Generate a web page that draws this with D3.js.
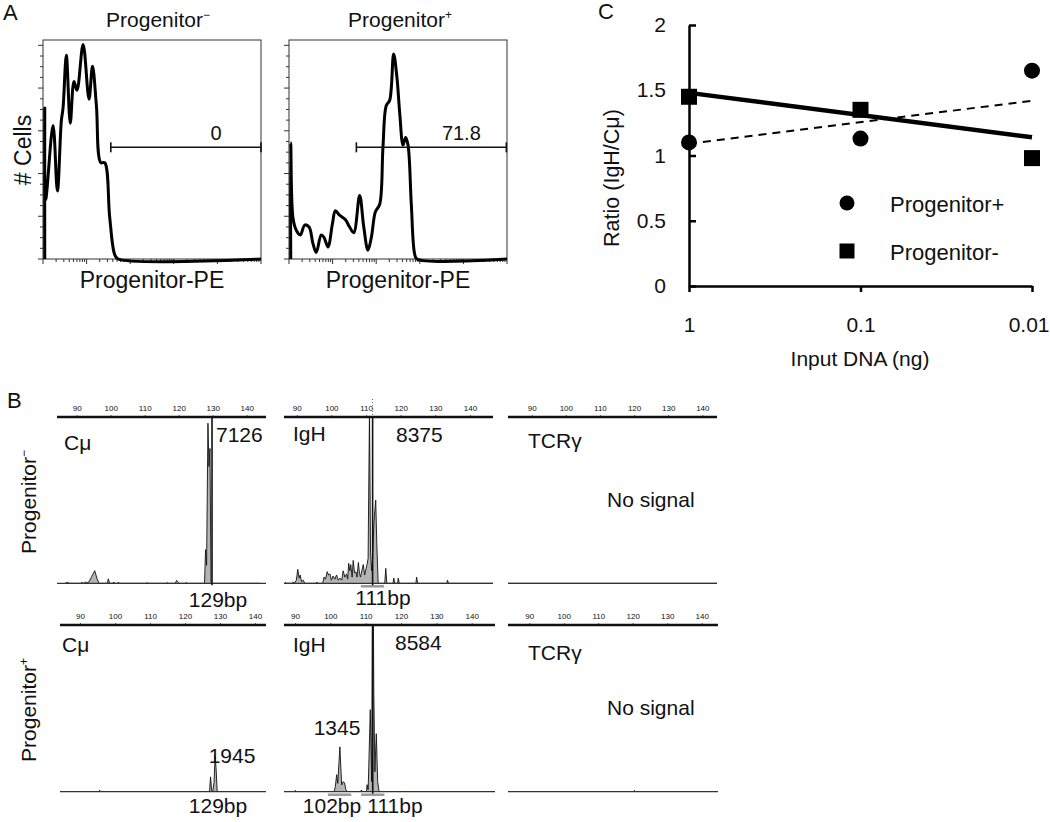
<!DOCTYPE html>
<html><head><meta charset="utf-8">
<script src="https://cdn.jsdelivr.net/npm/d3@7"></script>
<style>
body{margin:0;background:#fff}
text{font-family:"Liberation Sans",Arial,sans-serif;fill:#111}
</style>
</head><body>
<script>
// ---------------- DATA ----------------
// Panel A: flow histograms, [channel (0-1000), % of max]
const histNeg = [[8,0],[8,69],[12,27],[46,61],[66,31],[84,63],[92,69],[107,93],[125,62],[142,81],[156,77],[184,98],[211,73],[227,88],[245,70],[265,44],[283,44],[306,19],[329,2],[345,0],[1000,0]];
const histPos = [[8,0],[8,53],[18,19],[34,13],[52,11],[72,15.5],[92,14.6],[110,7],[125,3],[148,11],[160,10],[179,5.5],[199,16],[213,22],[232,20],[258,18],[278,14.6],[297,12],[324,29],[343,14.6],[362,4],[378,10],[396,21.5],[416,25],[431,51],[446,70],[462,72.5],[480,93.6],[495,83],[508,66.5],[523,52],[535,55.5],[546,52],[561,25],[576,2.5],[587,0],[1000,0]];
const gateNeg = {from:311, to:1000, level:51, label:"0"};
const gatePos = {from:309, to:997, level:51, label:"71.8"};
const histTitles = ["Progenitor", "Progenitor"];
const histSup = ["\u2212", "+"];

// Panel B: electropherogram traces, [size (bp), RFU]
const bpTicks = [90,100,110,120,130,140];
const cmuNegTrace = [[86.5,0],[87.4,40],[87.8,0],[91.2,0],[91.6,40],[92.0,0],[92.6,50],[93.0,20],[93.6,60],[94.4,300],[95.3,560],[96.0,200],[96.6,0],[99.0,0],[99.3,200],[99.7,0],[100.6,0],[100.9,60],[101.2,0],[102.0,0],[102.3,50],[102.6,0],[110.4,0],[110.7,30],[111.0,0],[116.3,0],[116.6,30],[116.9,0],[119.0,0],[119.4,130],[119.8,40],[120.1,0],[121.9,0],[122.2,40],[122.5,0],[127.6,0],[127.9,1500],[128.2,800],[128.6,7126],[128.9,5200],[129.2,6000],[129.5,0],[144,0]];
const igNegTrace = [[86.5,0],[86.7,40],[87,0],[88.8,0],[89,70],[89.3,0],[89.9,150],[90.3,670],[90.7,250],[91,400],[91.4,80],[91.9,150],[92.3,0],[95.6,0],[95.8,60],[96.1,0],[97.5,0],[97.9,300],[98.3,200],[98.8,560],[99.2,400],[99.6,450],[100,150],[100.5,350],[101,200],[101.5,400],[102,150],[102.5,250],[103,150],[103.4,600],[103.9,300],[104.4,450],[104.7,200],[105,960],[105.3,600],[105.6,900],[106,300],[106.3,1100],[106.7,500],[107.1,550],[107.4,300],[107.8,1000],[108.1,500],[108.4,300],[108.8,600],[109.2,900],[109.6,400],[110,700],[110.3,900],[110.6,1200],[111.0,8375],[111.3,1500],[111.6,600],[111.9,1200],[112.3,3000],[112.8,4000],[113.1,2000],[113.5,0],[115.4,0],[115.7,720],[116,0],[117.8,0],[118,250],[118.3,0],[119.1,0],[119.3,250],[119.6,0],[124.4,0],[124.6,300],[124.9,0],[133.3,0],[133.5,150],[133.8,0],[147,0]];
const tcrNegTrace = [[83,0],[145,0]];
const cmuPosTrace = [[86,0],[95.4,0],[95.6,80],[95.9,0],[127,0],[127.3,800],[127.6,100],[127.9,0],[128.3,500],[128.6,1945],[128.9,1200],[129.2,0],[146,0]];
const igPosTrace = [[86.5,0],[90,0],[90.1,40],[90.3,0],[101.1,0],[101.4,150],[101.8,510],[102.1,250],[102.7,1345],[103.2,200],[103.6,300],[104,270],[104.4,60],[104.8,0],[108.5,0],[108.8,50],[109.1,0],[110.2,0],[110.4,210],[110.7,60],[111.3,2460],[111.7,300],[112.0,8584],[112.3,3000],[112.6,600],[113.0,1740],[113.4,300],[113.8,0],[147,0]];
const tcrPosTrace = [[83,0],[120.3,0],[120.5,40],[120.8,0],[145,0]];

// Panel C: ratio vs input DNA
const inputDNA = [1, 0.1, 0.01];
const ratioPos = [1.10, 1.13, 1.65];
const ratioNeg = [1.45, 1.35, 0.98];
const trendPos = [1.09, 1.42];   // fitted line at 1 ng and 0.01 ng
const trendNeg = [1.48, 1.14];
const yTicksC = [0, 0.5, 1, 1.5, 2];

// ---------------- DRAWING ----------------
const svg = d3.select("body").append("svg").attr("width",1050).attr("height",822);
const defs = svg.append("defs");

function txt(x,y,s,size,anchor,rot){
  const t = svg.append("text").attr("x",x).attr("y",y).attr("font-size",size)
    .attr("text-anchor",anchor||"start").text(s);
  if(rot) t.attr("transform",`rotate(${rot},${x},${y})`);
  return t;
}

// ---- Panel A ----
txt(3,20,"A",22);
function histPanel(bx0, data, gate, title, sup, titleX){
  const bx1 = bx0+218, by0 = 40, by1 = 259;
  const x = d3.scaleLinear().domain([0,1000]).range([bx0,bx1]);
  const y = d3.scaleLinear().domain([0,100]).range([by1,by0]);
  const g = svg.append("g");
  g.append("rect").attr("x",bx0).attr("y",by0).attr("width",bx1-bx0).attr("height",by1-by0)
    .attr("fill","none").attr("stroke","#333").attr("stroke-width",1);
  const yt = d3.scaleLinear().domain([0,20.5]).range([by1,by0]);
  g.selectAll("line.yt").data(d3.range(0,21)).join("line")
    .attr("x1",d=>bx0-(d%4===0?5:3)).attr("x2",bx0)
    .attr("y1",d=>yt(d)).attr("y2",d=>yt(d)).attr("stroke","#333").attr("stroke-width",1);
  const xl = d3.scaleLog().domain([1,1e5]).range([bx0,bx1]);
  const xtv = [];
  for(let k=0;k<5;k++) for(let m=1;m<10;m++) xtv.push(m*Math.pow(10,k));
  xtv.push(1e5);
  g.selectAll("line.xt").data(xtv).join("line")
    .attr("x1",d=>xl(d)).attr("x2",d=>xl(d)).attr("y1",by1)
    .attr("y2",d=>by1+(Math.abs(Math.log10(d)%1)<1e-9?5:3))
    .attr("stroke","#333").attr("stroke-width",1);
  g.append("path").datum(data)
    .attr("d",d3.line().curve(d3.curveCatmullRom.alpha(0.5)).x(d=>x(d[0])).y(d=>y(d[1])))
    .attr("fill","none").attr("stroke","#000").attr("stroke-width",3).attr("stroke-linejoin","round");
  // gate
  const gy = y(gate.level);
  g.append("line").attr("x1",x(gate.from)).attr("x2",x(gate.to)).attr("y1",gy).attr("y2",gy)
    .attr("stroke","#111").attr("stroke-width",1.6);
  [gate.from, gate.to].forEach(v=>g.append("line").attr("x1",x(v)).attr("x2",x(v))
    .attr("y1",gy-5).attr("y2",gy+5).attr("stroke","#111").attr("stroke-width",1.6));
  txt(x((gate.from+gate.to)/2+ (gate.to-gate.from)*0.2), gy-7, gate.label, 20, "middle");
  const t = txt(titleX,27,title,21,"middle");
  t.append("tspan").attr("font-size",12).attr("dy",-8).text(sup);
  txt((bx0+bx1)/2,288,"Progenitor-PE",23,"middle");
}
histPanel(43, histNeg, gateNeg, histTitles[0], histSup[0], 158);
histPanel(289, histPos, gatePos, histTitles[1], histSup[1], 400);
txt(31,150,"# Cells",23,"middle",-90);

// ---- Panel C ----
txt(598,19,"C",22);
const xC = d3.scaleLog().domain([1,0.01]).range([689,1032]);
const yC = d3.scaleLinear().domain([0,2]).range([286,25]);
const gC = svg.append("g");
const axL = gC.append("g").attr("transform","translate(689,0)")
  .call(d3.axisLeft(yC).tickValues(yTicksC).tickSizeInner(-7).tickSizeOuter(0).tickPadding(23).tickFormat(d=>String(d)));
const axB = gC.append("g").attr("transform","translate(0,286)")
  .call(d3.axisBottom(xC).tickValues(inputDNA).tickSizeInner(6).tickSizeOuter(0).tickPadding(25).tickFormat(d=>String(d)));
[axL,axB].forEach(a=>{
  a.select(".domain").attr("stroke","#000").attr("stroke-width",2.5);
  a.selectAll(".tick line").attr("stroke","#000").attr("stroke-width",2.5);
  a.selectAll(".tick text").attr("font-size",21).attr("fill","#111").attr("font-family",'"Liberation Sans",Arial,sans-serif');
});
axB.selectAll(".tick text").filter(d=>d===inputDNA[inputDNA.length-1])
  .attr("text-anchor","end").attr("dx",17);
txt(619,178,"Ratio (IgH/C\u03bc)",21.5,"middle",-90);
txt(860,366,"Input DNA (ng)",21,"middle");
const ends = [inputDNA[0], inputDNA[inputDNA.length-1]];
gC.append("line").attr("x1",xC(ends[0])).attr("x2",xC(ends[1]))
  .attr("y1",yC(trendPos[0])).attr("y2",yC(trendPos[1]))
  .attr("stroke","#000").attr("stroke-width",2).attr("stroke-dasharray","8,6");
gC.append("line").attr("x1",xC(ends[0])).attr("x2",xC(ends[1]))
  .attr("y1",yC(trendNeg[0])).attr("y2",yC(trendNeg[1]))
  .attr("stroke","#000").attr("stroke-width",4.5);
gC.selectAll("circle.p").data(inputDNA).join("circle")
  .attr("cx",d=>xC(d)).attr("cy",(d,i)=>yC(ratioPos[i])).attr("r",8).attr("fill","#000");
gC.selectAll("rect.n").data(inputDNA).join("rect")
  .attr("x",d=>xC(d)-8).attr("y",(d,i)=>yC(ratioNeg[i])-8).attr("width",16).attr("height",16).attr("fill","#000");
gC.append("circle").attr("cx",847).attr("cy",203).attr("r",7.5).attr("fill","#000");
txt(890,212,"Progenitor+",22);
gC.append("rect").attr("x",839.5).attr("y",243.5).attr("width",15).attr("height",15).attr("fill","#000");
txt(890,260,"Progenitor-",22);

// ---- Panel B ----
txt(7,408,"B",22);
let clipId = 0;
function epg(c){
  const g = svg.append("g");
  const x = d3.scaleLinear().domain([90,140]).range([c.x90,c.x140]);
  const y = d3.scaleLinear().domain([0,c.ymax]).range([c.base,c.top]);
  // bins
  (c.bins||[]).forEach(b=>g.append("line").attr("x1",x(b[0])).attr("x2",x(b[1]))
    .attr("y1",c.base+3).attr("y2",c.base+3).attr("stroke","#999").attr("stroke-width",2.5));
  // trace
  const id = "clip"+(clipId++);
  defs.append("clipPath").attr("id",id).append("rect")
    .attr("x",c.x0).attr("y",c.top).attr("width",c.x1-c.x0).attr("height",c.base-c.top);
  const tg = g.append("g").attr("clip-path",`url(#${id})`);
  tg.append("path").datum(c.trace)
    .attr("d",d3.area().x(d=>x(d[0])).y0(c.base).y1(d=>y(d[1])))
    .attr("fill","#b4b4b4");
  tg.append("path").datum(c.trace)
    .attr("d",d3.line().x(d=>x(d[0])).y(d=>y(d[1])))
    .attr("fill","none").attr("stroke","#111").attr("stroke-width",0.9);
  // baseline
  g.append("line").attr("x1",c.x0).attr("x2",c.x1).attr("y1",c.base).attr("y2",c.base)
    .attr("stroke","#333").attr("stroke-width",1.2);
  // marker
  if(c.marker){
    g.append("line").attr("x1",x(c.marker)).attr("x2",x(c.marker)).attr("y1",c.top).attr("y2",c.base+2)
      .attr("stroke","#111").attr("stroke-width",1.6);
    if(c.markerDots) g.append("line").attr("x1",x(c.marker)).attr("x2",x(c.marker))
      .attr("y1",c.top-18).attr("y2",c.top).attr("stroke","#666").attr("stroke-width",1).attr("stroke-dasharray","1,2");
  }
  // top axis
  const ax = g.append("g").attr("transform",`translate(0,${c.top})`)
    .call(d3.axisTop(x).tickValues(bpTicks).tickSize(2).tickPadding(4));
  ax.select(".domain").remove();
  ax.selectAll(".tick line").attr("stroke","#666");
  ax.selectAll(".tick text").attr("font-size",8).attr("fill","#444").attr("font-family",'"Liberation Serif",serif');
  g.append("line").attr("x1",c.x0).attr("x2",c.x1).attr("y1",c.top).attr("y2",c.top)
    .attr("stroke","#111").attr("stroke-width",2.4);
  (c.labels||[]).forEach(l=>txt(l[0],l[1],l[2],l[3]||21,l[4]||"start"));
}
const r1 = {top:417, base:583.3}, r2 = {top:625, base:791.7};
epg({...r1, x0:57, x1:266, x90:76.7, x140:246.7, ymax:7400, trace:cmuNegTrace, marker:129.8,
  labels:[[64,450,"C\u03bc"],[216,442,"7126"],[218,607,"129bp",21,"middle"]]});
epg({...r1, x0:284, x1:493, x90:296.7, x140:470, ymax:8000, trace:igNegTrace, marker:111.9, markerDots:true,
  bins:[[108.5,115.2]],
  labels:[[293,441,"IgH"],[396,442,"8375"],[383,605,"111bp",21,"middle"]]});
epg({...r1, x0:508, x1:717, x90:531.7, x140:702.3, ymax:8000, trace:tcrNegTrace,
  labels:[[528,448,"TCR\u03b3"],[607,507,"No signal"]]});
epg({...r2, x0:60, x1:266, x90:80, x140:255, ymax:9000, trace:cmuPosTrace,
  labels:[[62,652,"C\u03bc"],[232,763,"1945",21,"middle"],[218,813,"129bp",21,"middle"]]});
epg({...r2, x0:284, x1:495, x90:295, x140:471.7, ymax:5000, trace:igPosTrace, marker:112.0,
  bins:[[99.3,105.9],[108.7,115.3]],
  labels:[[293,652,"IgH"],[395,650,"8584"],[337,735,"1345",21,"middle"],[332,813,"102bp",21,"middle"],[395,813,"111bp",21,"middle"]]});
epg({...r2, x0:508, x1:718, x90:529.3, x140:701.7, ymax:5000, trace:tcrPosTrace,
  labels:[[528,660,"TCR\u03b3"],[607,715,"No signal"]]});

const t1 = txt(36,502,"Progenitor",21,"middle",-90);
t1.append("tspan").attr("font-size",12).attr("dy",-8).text("\u2212");
const t2 = txt(36,710,"Progenitor",21,"middle",-90);
t2.append("tspan").attr("font-size",12).attr("dy",-8).text("+");
</script>
</body></html>
